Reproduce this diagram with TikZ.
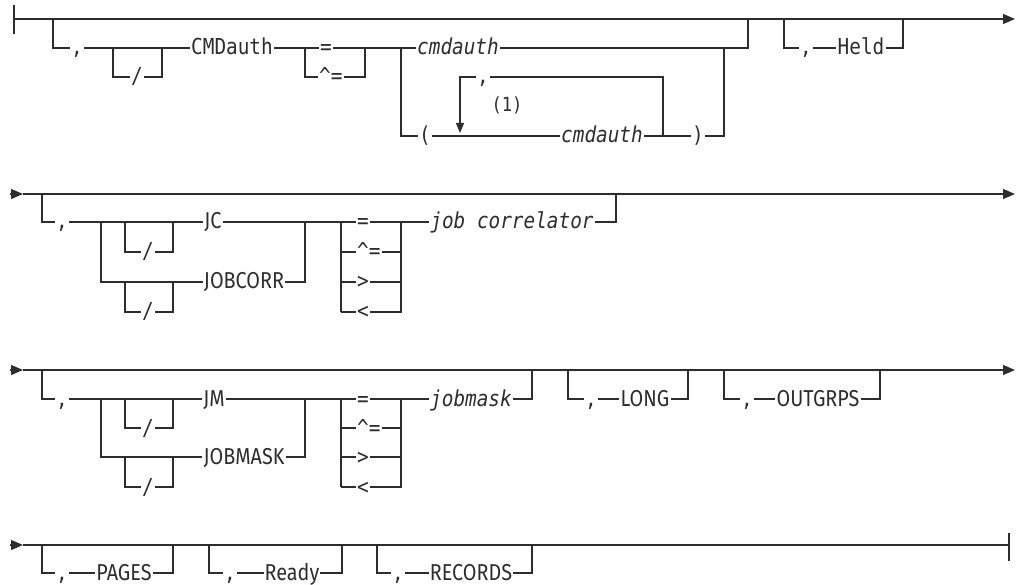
\documentclass[tikz,border=0pt]{standalone}
\usepackage{fontspec}
\newfontfamily\rrmono[FakeStretch=0.88]{DejaVu Sans Mono}
\newfontfamily\rrsans[FakeStretch=0.86]{Fira Sans}
\usetikzlibrary{arrows.meta}
\definecolor{lc}{RGB}{45,45,45}
\begin{document}
\begin{tikzpicture}[x=1pt,y=-1pt,
 trk/.style={line width=1.2pt,draw=lc},
 lbl/.style={inner xsep=1pt,inner ysep=0pt,text height=14pt,text depth=0pt,anchor=center,text=lc},
 mo/.style={lbl,font=\rrmono\fontsize{22}{22}\selectfont},
 mi/.style={lbl,font=\rrmono\itshape\fontsize{22}{22}\selectfont},
 sa/.style={lbl,font=\rrsans\fontsize{23}{23}\selectfont},
 tip/.style={-{Triangle[length=12pt,width=10pt]}},
 dtip/.style={-{Triangle[length=10pt,width=8pt]}},
]
\useasboundingbox (0,0) rectangle (1017,585);

% ---------------- line 1 ----------------
\node[mo] (c1) at (77,48) {,};
\node[mo] (s1) at (137,77) {/};
\node[mo] (cmd) at (232,48) {CMDauth};
\node[mo,anchor=west] (eq1) at (319,48) {=};
\node[mo,anchor=west] (neq1) at (318,77) {\textasciicircum=};
\node[mi] (ca1) at (458,48) {cmdauth};
\node[mo] (lp) at (425,136) {(};
\node[mi] (ca2) at (602,136) {cmdauth};
\node[mo] (rp) at (698,136) {)};
\node[mo] (c2) at (483,77) {,};
\node[lbl,font=\rrmono\fontsize{19.5}{20}\selectfont] (note) at (507,105) {(1)};
\node[mo] (c3) at (806,48) {,};
\node[mo] (held) at (861,48) {Held};

\coordinate (st1) at (14,19);
\coordinate (en1) at (1015,19);
\draw[trk] (14,5) -- (14,34);
\draw[trk,tip] (st1) -- (en1);
\draw[trk] (53,19) -- (53,48) -- (c1.west);
\draw[trk] (c1.east) -- (cmd.west);
\draw[trk] (113,48) -- (113,77) -- (s1.west);
\draw[trk] (s1.east) -- (162,77) -- (162,48);
\draw[trk] (cmd.east) -- (eq1.west);
\draw[trk] (eq1.east) -- (ca1.west);
\draw[trk] (305,48) -- (305,77) -- (neq1.west);
\draw[trk] (neq1.east) -- (365,77) -- (365,48);
\draw[trk] (ca1.east) -- (748,48) -- (748,19);
\draw[trk] (401,48) -- (401,136) -- (lp.west);
\draw[trk] (lp.east) -- (ca2.west);
\draw[trk] (ca2.east) -- (rp.west);
\draw[trk] (rp.east) -- (724,136) -- (724,48);
\draw[trk] (663,136) -- (663,77) -- (c2.east);
\draw[trk,dtip] (c2.west) -- (460,77) -- (460,133);
\draw[trk] (784,19) -- (784,48) -- (c3.west);
\draw[trk] (c3.east) -- (held.west);
\draw[trk] (held.east) -- (903,48) -- (903,19);

% ---------------- line 2 ----------------
\node[mo] (c4) at (62,222) {,};
\node[mo] (s2) at (148,252) {/};
\node[mo] (s3) at (148,312) {/};
\node[sa] (jc) at (213,222) {JC};
\node[sa] (jcorr) at (244,282) {JOBCORR};
\node[mo,anchor=west] (o1) at (356,222) {=};
\node[mo,anchor=west] (o2) at (356,252) {\textasciicircum=};
\node[mo,anchor=west] (o3) at (356,282) {>};
\node[mo,anchor=west] (o4) at (356,312) {<};
\node[mi] (jcv) at (512,222) {job correlator};

\coordinate (st2) at (10,194);
\coordinate (b2) at (23,194);
\coordinate (en2) at (1015,194);
\draw[trk,tip] (st2) -- (b2);
\draw[trk,tip] (b2) -- (en2);
\draw[trk] (42,194) -- (42,222) -- (c4.west);
\draw[trk] (c4.east) -- (jc.west);
\draw[trk] (101,222) -- (101,282) -- (jcorr.west);
\draw[trk] (125,222) -- (125,252) -- (s2.west);
\draw[trk] (s2.east) -- (173,252) -- (173,222);
\draw[trk] (125,282) -- (125,312) -- (s3.west);
\draw[trk] (s3.east) -- (173,312) -- (173,282);
\draw[trk] (jc.east) -- (o1.west);
\draw[trk] (jcorr.east) -- (305,282) -- (305,222);
\draw[trk] (341,222) -- (341,312);
\draw[trk] (341,252) -- (o2.west);
\draw[trk] (341,282) -- (o3.west);
\draw[trk] (341,312) -- (o4.west);
\draw[trk] (o2.east) -- (401,252);
\draw[trk] (o3.east) -- (401,282);
\draw[trk] (o4.east) -- (401,312) -- (401,222);
\draw[trk] (o1.east) -- (jcv.west);
\draw[trk] (jcv.east) -- (616,222) -- (616,194);

% ---------------- line 3 ----------------
\node[mo] (c5) at (62,399) {,};
\node[mo] (s4) at (148,428) {/};
\node[mo] (s5) at (148,487) {/};
\node[sa] (jm) at (214,399) {JM};
\node[sa] (jmask) at (244,457) {JOBMASK};
\node[mo,anchor=west] (p1) at (356,399) {=};
\node[mo,anchor=west] (p2) at (356,428) {\textasciicircum=};
\node[mo,anchor=west] (p3) at (356,457) {>};
\node[mo,anchor=west] (p4) at (356,487) {<};
\node[mi] (jmv) at (471,399) {jobmask};
\node[mo] (c6) at (591,399) {,};
\node[sa] (long) at (645,399) {LONG};
\node[mo] (c7) at (747,399) {,};
\node[sa] (outg) at (818,399) {OUTGRPS};

\coordinate (st3) at (10,370);
\coordinate (b3) at (23,370);
\coordinate (en3) at (1015,370);
\draw[trk,tip] (st3) -- (b3);
\draw[trk,tip] (b3) -- (en3);
\draw[trk] (42,370) -- (42,399) -- (c5.west);
\draw[trk] (c5.east) -- (jm.west);
\draw[trk] (101,399) -- (101,457) -- (jmask.west);
\draw[trk] (125,399) -- (125,428) -- (s4.west);
\draw[trk] (s4.east) -- (173,428) -- (173,399);
\draw[trk] (125,457) -- (125,487) -- (s5.west);
\draw[trk] (s5.east) -- (173,487) -- (173,457);
\draw[trk] (jm.east) -- (p1.west);
\draw[trk] (jmask.east) -- (305,457) -- (305,399);
\draw[trk] (341,399) -- (341,487);
\draw[trk] (341,428) -- (p2.west);
\draw[trk] (341,457) -- (p3.west);
\draw[trk] (341,487) -- (p4.west);
\draw[trk] (p2.east) -- (401,428);
\draw[trk] (p3.east) -- (401,457);
\draw[trk] (p4.east) -- (401,487) -- (401,399);
\draw[trk] (p1.east) -- (jmv.west);
\draw[trk] (jmv.east) -- (532,399) -- (532,370);
\draw[trk] (568,370) -- (568,399) -- (c6.west);
\draw[trk] (c6.east) -- (long.west);
\draw[trk] (long.east) -- (688,399) -- (688,370);
\draw[trk] (724,370) -- (724,399) -- (c7.west);
\draw[trk] (c7.east) -- (outg.west);
\draw[trk] (outg.east) -- (880,399) -- (880,370);

% ---------------- line 4 ----------------
\node[mo] (c8) at (62,573) {,};
\node[sa] (pages) at (124,573) {PAGES};
\node[mo] (c9) at (230,573) {,};
\node[sa] (ready) at (292,573) {Ready};
\node[mo] (c10) at (398,573) {,};
\node[sa] (recs) at (471,573) {RECORDS};

\coordinate (st4) at (10,545);
\coordinate (b4) at (23,545);
\coordinate (en4) at (1009,545);
\draw[trk,tip] (st4) -- (b4);
\draw[trk] (b4) -- (en4);
\draw[trk] (1009,533) -- (1009,561);
\draw[trk] (42,545) -- (42,573) -- (c8.west);
\draw[trk] (c8.east) -- (pages.west);
\draw[trk] (pages.east) -- (173,573) -- (173,545);
\draw[trk] (209,545) -- (209,573) -- (c9.west);
\draw[trk] (c9.east) -- (ready.west);
\draw[trk] (ready.east) -- (342,573) -- (342,545);
\draw[trk] (377,545) -- (377,573) -- (c10.west);
\draw[trk] (c10.east) -- (recs.west);
\draw[trk] (recs.east) -- (532,573) -- (532,545);
\end{tikzpicture}
\end{document}
